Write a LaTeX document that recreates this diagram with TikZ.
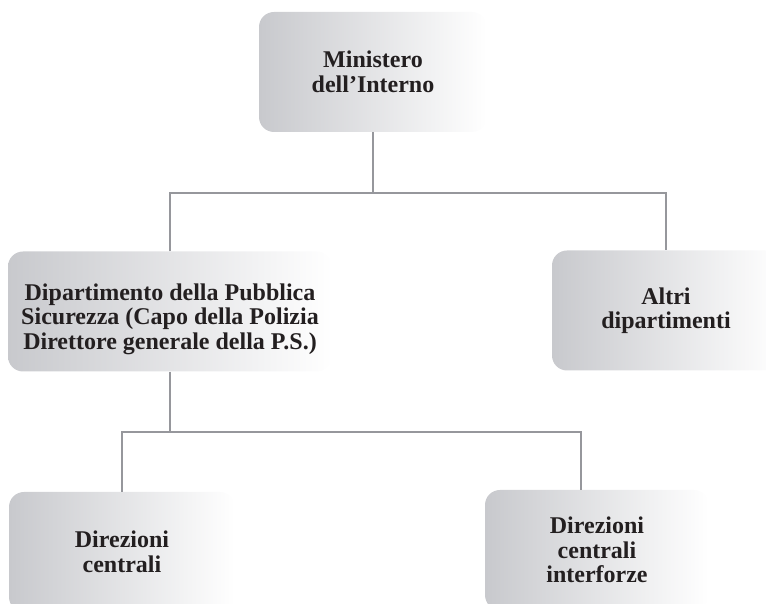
\documentclass[tikz,border=0pt]{standalone}
\usepackage{fontspec}
\setmainfont{Liberation Serif}
\usepackage{xcolor}
\usepackage{tikz}
\usetikzlibrary{positioning,calc}
\definecolor{boxgray}{RGB}{200,201,205}
\definecolor{linegray}{RGB}{150,151,156}
\definecolor{textdark}{RGB}{35,31,32}

\begin{document}
\begin{tikzpicture}[x=1pt,y=1pt]\tikzset{
orgbox/.style={rounded corners=15pt, left color=boxgray, right color=white,
 minimum height=120pt, align=center, inner sep=0pt, text=textdark,
 font=\fontsize{24}{24.5}\selectfont\bfseries},
conn/.style={draw=linegray, line width=1.5pt}}
\useasboundingbox (0,0) rectangle (766,604);
\clip (0,0) rectangle (766,604);
\node[orgbox, minimum width=228pt] (min) at (373,532) {Ministero\\dell'Interno};
\node[orgbox, minimum width=324pt] (dps) at (170,292.5) {\rule{0pt}{32pt}Dipartimento della Pubblica\\Sicurezza (Capo della Polizia\\Direttore generale della P.S.)};
\node[orgbox, minimum width=228pt] (altri) at (666,293.5) {Altri\\dipartimenti};
\node[orgbox, minimum width=226pt] (dc) at (122,52) {Direzioni\\centrali};
\node[orgbox, minimum width=224pt] (dci) at (597,54) {Direzioni\\centrali\\interforze};
\coordinate (busA) at (min.south |- 0,411);
\coordinate (busB) at (dps.south |- 0,172);
\draw[conn] (min.south) -- (busA);
\draw[conn] (dps.north) |- (busA) -| (altri.north);
\draw[conn] (dps.south) -- (busB);
\draw[conn] (dc.north) |- (busB) -| ([xshift=-16pt]dci.north);
\end{tikzpicture}
\end{document}
